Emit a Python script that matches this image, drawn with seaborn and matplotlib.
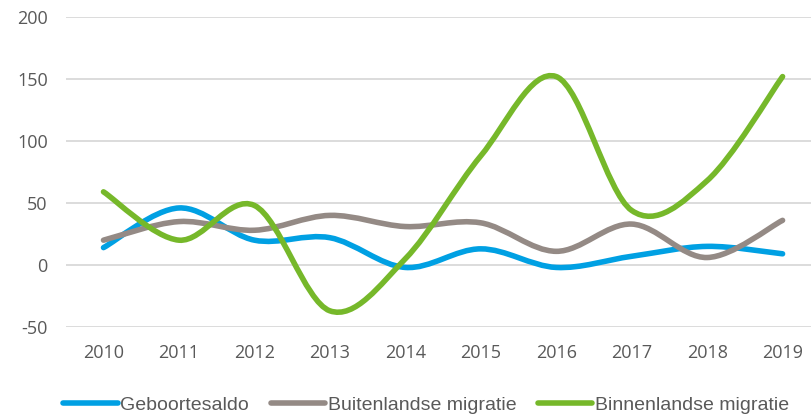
import numpy as np
import matplotlib
matplotlib.use("Agg")
import matplotlib.pyplot as plt
import seaborn as sns
from matplotlib.path import Path
from matplotlib.patches import PathPatch
from matplotlib.lines import Line2D

years = ["2010", "2011", "2012", "2013", "2014", "2015", "2016", "2017", "2018", "2019"]
geboortesaldo = [14, 46, 20, 22, -2, 13, -2, 7, 15, 9]
buitenlandse = [20, 35, 28, 40, 31, 34, 11, 33, 6, 36]
binnenlandse = [59, 20, 48, -37, 5, 88, 152, 44, 68, 152]

series = [
    ("Geboortesaldo", geboortesaldo, "#00A0E3"),
    ("Buitenlandse migratie", buitenlandse, "#948A85"),
    ("Binnenlandse migratie", binnenlandse, "#76B82A"),
]

sns.set_theme(style="whitegrid")
plt.rcParams["font.family"] = ["Open Sans", "DejaVu Sans"]
plt.rcParams["axes.unicode_minus"] = False


def smooth_path(xs, ys):
    # Excel-like smoothed line: cubic Bezier segments (Catmull-Rom control points)
    pts = np.column_stack([xs, ys]).astype(float)
    n = len(pts)
    verts = [pts[0]]
    codes = [Path.MOVETO]
    for i in range(n - 1):
        p0 = pts[i - 1] if i > 0 else pts[i]
        p1 = pts[i]
        p2 = pts[i + 1]
        p3 = pts[i + 2] if i + 2 < n else pts[i + 1]
        c1 = p1 + (p2 - p0) / 6.0
        c2 = p2 - (p3 - p1) / 6.0
        verts += [c1, c2, p2]
        codes += [Path.CURVE4] * 3
    return Path(verts, codes)


fig = plt.figure(figsize=(8.12, 4.17), dpi=100)
ax = fig.add_axes([0.081, 0.216, 0.919, 0.743])

x = np.arange(len(years))
handles = []
for name, vals, color in series:
    patch = PathPatch(smooth_path(x, vals), facecolor="none", edgecolor=color,
                      lw=4.0, capstyle="round", joinstyle="round", zorder=3)
    ax.add_patch(patch)
    handles.append(Line2D([], [], color=color, lw=4.0, solid_capstyle="round", label=name))

ax.set_xlim(-0.5, 9.39)
ax.set_ylim(-50, 200)
ax.set_yticks([-50, 0, 50, 100, 150, 200])
ax.set_xticks(x)
ax.set_xticklabels(years)
ax.grid(axis="y", color="#D9D9D9", lw=1.3)
ax.grid(axis="x", visible=False)
for s in ax.spines.values():
    s.set_visible(False)
ax.tick_params(axis="both", colors="#595959", labelsize=13, length=0)
ax.tick_params(axis="y", pad=13)
ax.tick_params(axis="x", pad=12)

fig.legend(handles=handles, loc="center", bbox_to_anchor=(0.525, 0.028), ncol=3,
           frameon=False, handlelength=2.8, handletextpad=0.15, columnspacing=1.1,
           prop={"family": ["Liberation Sans", "DejaVu Sans"], "size": 14},
           labelcolor="#595959")

fig.savefig("out.png", dpi=100)
